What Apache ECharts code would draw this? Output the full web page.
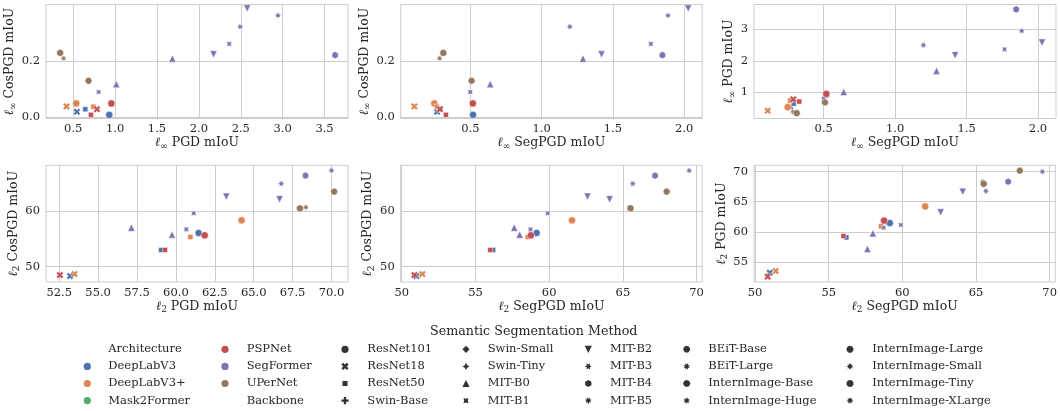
<!DOCTYPE html>
<html><head><meta charset="utf-8">
<script src="https://cdn.jsdelivr.net/npm/echarts@6.0.0/dist/echarts.min.js"></script>
<style>html,body{margin:0;padding:0;background:#fff}#c{width:1060px;height:411px}</style>
</head><body><div id="c"></div><script>
// ---------- data (one entry per model) ----------
const architecture = ['DeepLabV3','DeepLabV3','DeepLabV3','DeepLabV3+','DeepLabV3+','DeepLabV3+','SegFormer','SegFormer','SegFormer','SegFormer','SegFormer','SegFormer','SegFormer','SegFormer','SegFormer','PSPNet','PSPNet','PSPNet','UPerNet','UPerNet','UPerNet'];
const backbone = ['ResNet101','ResNet18','ResNet50','ResNet101','ResNet18','ResNet50','MIT-B0','MIT-B0','MIT-B1','MIT-B1','MIT-B2','MIT-B2','MIT-B3','MIT-B5','MIT-B4','ResNet101','ResNet18','ResNet50','InternImage-Small','InternImage-Tiny','InternImage-Base'];
const linfPGD    = [0.93,0.544,0.644, 0.536,0.42,0.74, 1.014,1.684,0.803,2.362,2.175,2.577,2.494,2.944,3.626, 0.955,0.783,0.711, 0.384,0.344,0.683];
const linfCosPGD = [0.008,0.019,0.028, 0.0485,0.038,0.037, 0.117,0.208,0.089,0.260,0.223,0.386,0.321,0.361,0.220, 0.0485,0.028,0.008, 0.209,0.228,0.129];
const linfSegPGD = [0.519,0.267,0.29, 0.248,0.108,0.265, 0.64,1.29,0.50,1.766,1.42,2.028,1.198,1.886,1.847, 0.518,0.287,0.329, 0.285,0.311,0.509];
const l2PGD      = [61.46,53.2,59.05, 64.22,53.48,60.93, 57.14,59.75,60.67,61.14,63.24,66.66,66.77,70.0,68.33, 61.85,52.54,59.3, 68.35,67.97,70.17];
const l2CosPGD   = [56.05,48.32,53.0, 58.32,48.68,55.33, 57.0,55.75,56.7,59.58,62.57,62.1,64.91,67.25,66.35, 55.63,48.5,53.0, 60.66,60.48,63.47];
const l2SegPGD   = [59.15,51.0,56.2, 61.55,51.4,58.55, 57.63,58.0,58.73,59.9,62.6,64.1,65.67,69.5,67.18, 58.76,50.86,56.0, 65.45,65.52,67.97];

// tick labels
const ticksLinfPGD  = [0.5,1.0,1.5,2.0,2.5,3.0,3.5];
const ticksLinfCos  = [0.0,0.2];
const ticksLinfSeg  = [0.5,1.0,1.5,2.0];
const ticksLinfPGDy = [1,2,3];
const ticksL2PGD    = [52.5,55,57.5,60,62.5,65,67.5,70];
const ticksL2Cos    = [50,60];
const ticksL2Seg    = [50,55,60,65,70];
const ticksL2PGDy   = [55,60,65,70];

// legend entries
const legendTitle = 'Semantic Segmentation Method';
const legendArchitectures = ['DeepLabV3','DeepLabV3+','Mask2Former','PSPNet','SegFormer','UPerNet'];
const legendBackbones = ['ResNet101','ResNet18','ResNet50','Swin-Base','Swin-Small','Swin-Tiny','MIT-B0','MIT-B1','MIT-B2','MIT-B3','MIT-B4','MIT-B5','BEiT-Base','BEiT-Large','InternImage-Base','InternImage-Huge','InternImage-Large','InternImage-Small','InternImage-Tiny','InternImage-XLarge'];

// ---------- styles ----------
const FONT = 'DejaVu Serif';
const TXT = '#262626';
const archColor = {'DeepLabV3':'#4C72B0','DeepLabV3+':'#DD8452','Mask2Former':'#55A868','PSPNet':'#C44E52','SegFormer':'#8172B3','UPerNet':'#937860'};

function poly(n, rot){
  const pts=[]; for(let k=0;k<n;k++){const t=(90+rot)*Math.PI/180+2*Math.PI*k/n; pts.push([Math.cos(t),Math.sin(t)]);} return pts;
}
function star(n, rot){
  const pts=[]; for(let k=0;k<2*n;k++){const t=(90+rot)*Math.PI/180+Math.PI*k/n; const r=k%2?0.5:1; pts.push([r*Math.cos(t),r*Math.sin(t)]);} return pts;
}
const xPts = [[-1,-2],[0,-1],[1,-2],[2,-1],[1,0],[2,1],[1,2],[0,1],[-1,2],[-2,1],[-1,0],[-2,-1]].map(p=>[p[0]/2,p[1]/2]);
const pPts = [[-1,-3],[1,-3],[1,-1],[3,-1],[3,1],[1,1],[1,3],[-1,3],[-1,1],[-3,1],[-3,-1],[-1,-1]].map(p=>[p[0]/3,p[1]/3]);
const markerPts = {
  'ResNet101': null, 'ResNet18': xPts, 'ResNet50': poly(4,45), 'Swin-Base': pPts,
  'Swin-Small': poly(4,0), 'Swin-Tiny': star(4,0), 'MIT-B0': [[0,1],[-1,-1],[1,-1]],
  'MIT-B1': star(4,45), 'MIT-B2': [[0,-1],[1,1],[-1,1]], 'MIT-B3': star(6,30), 'MIT-B4': poly(6,0),
  'MIT-B5': star(7,360/7/2), 'BEiT-Base': poly(7,0), 'BEiT-Large': star(8,22.5), 'InternImage-Base': poly(8,0),
  'InternImage-Huge': star(9,20), 'InternImage-Large': poly(9,0), 'InternImage-Small': star(10,18),
  'InternImage-Tiny': poly(10,0), 'InternImage-XLarge': star(11,360/11/2)
};
function toPath(pts){
  return 'M-1 -1 M1 1 M' + pts.map(p => p[0].toFixed(4)+' '+(-p[1]).toFixed(4)).join(' L') + ' Z';
}
const MS = 7.2;
function symbolOf(b){ return markerPts[b] ? 'path://'+toPath(markerPts[b]) : 'circle'; }

function axName(sub, label){ return '{l|ℓ}{s|'+sub+'}{t| '+label+' mIoU}'; }
const rich = {
  l:{fontFamily:FONT,fontStyle:'italic',fontSize:12.5,lineHeight:16,color:TXT},
  s:{fontFamily:FONT,fontSize:9,lineHeight:10,verticalAlign:'bottom',color:TXT},
  t:{fontFamily:FONT,fontSize:12.5,lineHeight:16,color:TXT}
};

const panels = [
  {x:linfPGD, y:linfCosPGD, xr:[0.175,3.78], yr:[-0.005,0.40], xt:ticksLinfPGD, yt:ticksLinfCos, xf:1, yf:1, xn:axName('∞','PGD'), yn:axName('∞','CosPGD'), g:{left:46,top:4.5,width:302,height:114}, xg:16.5, yg:24},
  {x:linfSegPGD, y:linfCosPGD, xr:[0.012,2.126], yr:[-0.005,0.40], xt:ticksLinfSeg, yt:ticksLinfCos, xf:1, yf:1, xn:axName('∞','SegPGD'), yn:axName('∞','CosPGD'), g:{left:400.7,top:4.5,width:301.5,height:114}, xg:16.5, yg:23.5},
  {x:linfSegPGD, y:linfPGD, xr:[0.012,2.126], yr:[0.175,3.78], xt:ticksLinfSeg, yt:ticksLinfPGDy, xf:1, yf:0, xn:axName('∞','SegPGD'), yn:axName('∞','PGD'), g:{left:754,top:4.5,width:302,height:114}, xg:16.5, yg:14.3},
  {x:l2PGD, y:l2CosPGD, xr:[51.65,71.06], yr:[47.25,68.2], xt:ticksL2PGD, yt:ticksL2Cos, xf:1, yf:0, xn:axName('2','PGD'), yn:axName('2','CosPGD'), g:{left:46,top:165.3,width:302,height:116.7}, xg:15.5, yg:19.2},
  {x:l2SegPGD, y:l2CosPGD, xr:[49.93,70.38], yr:[47.25,68.2], xt:ticksL2Seg, yt:ticksL2Cos, xf:0, yf:0, xn:axName('2','SegPGD'), yn:axName('2','CosPGD'), g:{left:400.7,top:165.3,width:301.5,height:116.7}, xg:15.5, yg:21.9},
  {x:l2SegPGD, y:l2PGD, xr:[49.93,70.38], yr:[51.65,71.06], xt:ticksL2Seg, yt:ticksL2PGDy, xf:0, yf:0, xn:axName('2','SegPGD'), yn:axName('2','PGD'), g:{left:754,top:165.3,width:302,height:116.7}, xg:15.5, yg:18.5}
];

function axis(i, r, ticks, fixed, name, gap, isX){
  return {
    gridIndex:i, type:'value', min:r[0], max:r[1],
    axisLine:{show:false}, axisTick:{show:false, customValues:ticks},
    axisLabel:{customValues:ticks, formatter:v=>Number(v).toFixed(fixed), fontFamily:FONT, fontSize:11.5, color:TXT, margin:isX?5:6},
    splitLine:{show:true, lineStyle:{color:'#cccccc', width:1}},
    name:name, nameLocation:'middle', nameGap:gap, nameTextStyle:{rich:rich}
  };
}

const grids=[], xAxes=[], yAxes=[], series=[];
panels.forEach((p,i)=>{
  grids.push(Object.assign({show:true, borderColor:'#cccccc', borderWidth:1, backgroundColor:'#fff'}, p.g));
  xAxes.push(axis(i,p.xr,p.xt,p.xf,p.xn,p.xg,true));
  yAxes.push(axis(i,p.yr,p.yt,p.yf,p.yn,p.yg,false));
  series.push({
    type:'scatter', xAxisIndex:i, yAxisIndex:i, silent:true,
    data: architecture.map((a,k)=>({
      value:[p.x[k], p.y[k]], symbol:symbolOf(backbone[k]), symbolSize:MS, symbolKeepAspect:true,
      itemStyle:{color:archColor[a], borderColor:'#ffffff', borderWidth:0.5, opacity:1}
    }))
  });
});

// ---------- legend (graphic) ----------
const legendColMarkerX = [87.3,225,345,466,588.3,686.7,850];
const legendColTextX   = [108.3,246.7,367.3,487.7,610,708.3,872.3];
const legendRowY = [349.3,366.4,383.5,400.6];
const entries = [{label:'Architecture'}].concat(legendArchitectures.map(a=>({label:a, color:archColor[a]})),
  [{label:'Backbone'}], legendBackbones.map(b=>({label:b, marker:b})));
const graphics = [{type:'text', x:533.7, y:331.7, style:{text:legendTitle, fontFamily:FONT, fontSize:12.7, fill:TXT, align:'center', verticalAlign:'middle'}}];
entries.forEach((e,i)=>{
  const c=Math.floor(i/4), r=i%4, y=legendRowY[r], mx=legendColMarkerX[c];
  graphics.push({type:'text', x:legendColTextX[c], y:y, style:{text:e.label, fontFamily:FONT, fontSize:11.5, fill:TXT, align:'left', verticalAlign:'middle'}});
  if(e.color){
    graphics.push({type:'circle', shape:{cx:mx, cy:y, r:MS/2}, style:{fill:e.color}});
  } else if(e.marker){
    const pts = markerPts[e.marker];
    if(!pts) graphics.push({type:'circle', shape:{cx:mx, cy:y, r:MS/2}, style:{fill:'#333333'}});
    else graphics.push({type:'polygon', shape:{points:pts.map(p=>[mx+p[0]*MS/2, y-p[1]*MS/2])}, style:{fill:'#333333'}});
  }
});

const chart = echarts.init(document.getElementById('c'), null, {renderer:'canvas'});
chart.setOption({animation:false, backgroundColor:'#ffffff', grid:grids, xAxis:xAxes, yAxis:yAxes, series:series, graphic:graphics});
</script></body></html>
